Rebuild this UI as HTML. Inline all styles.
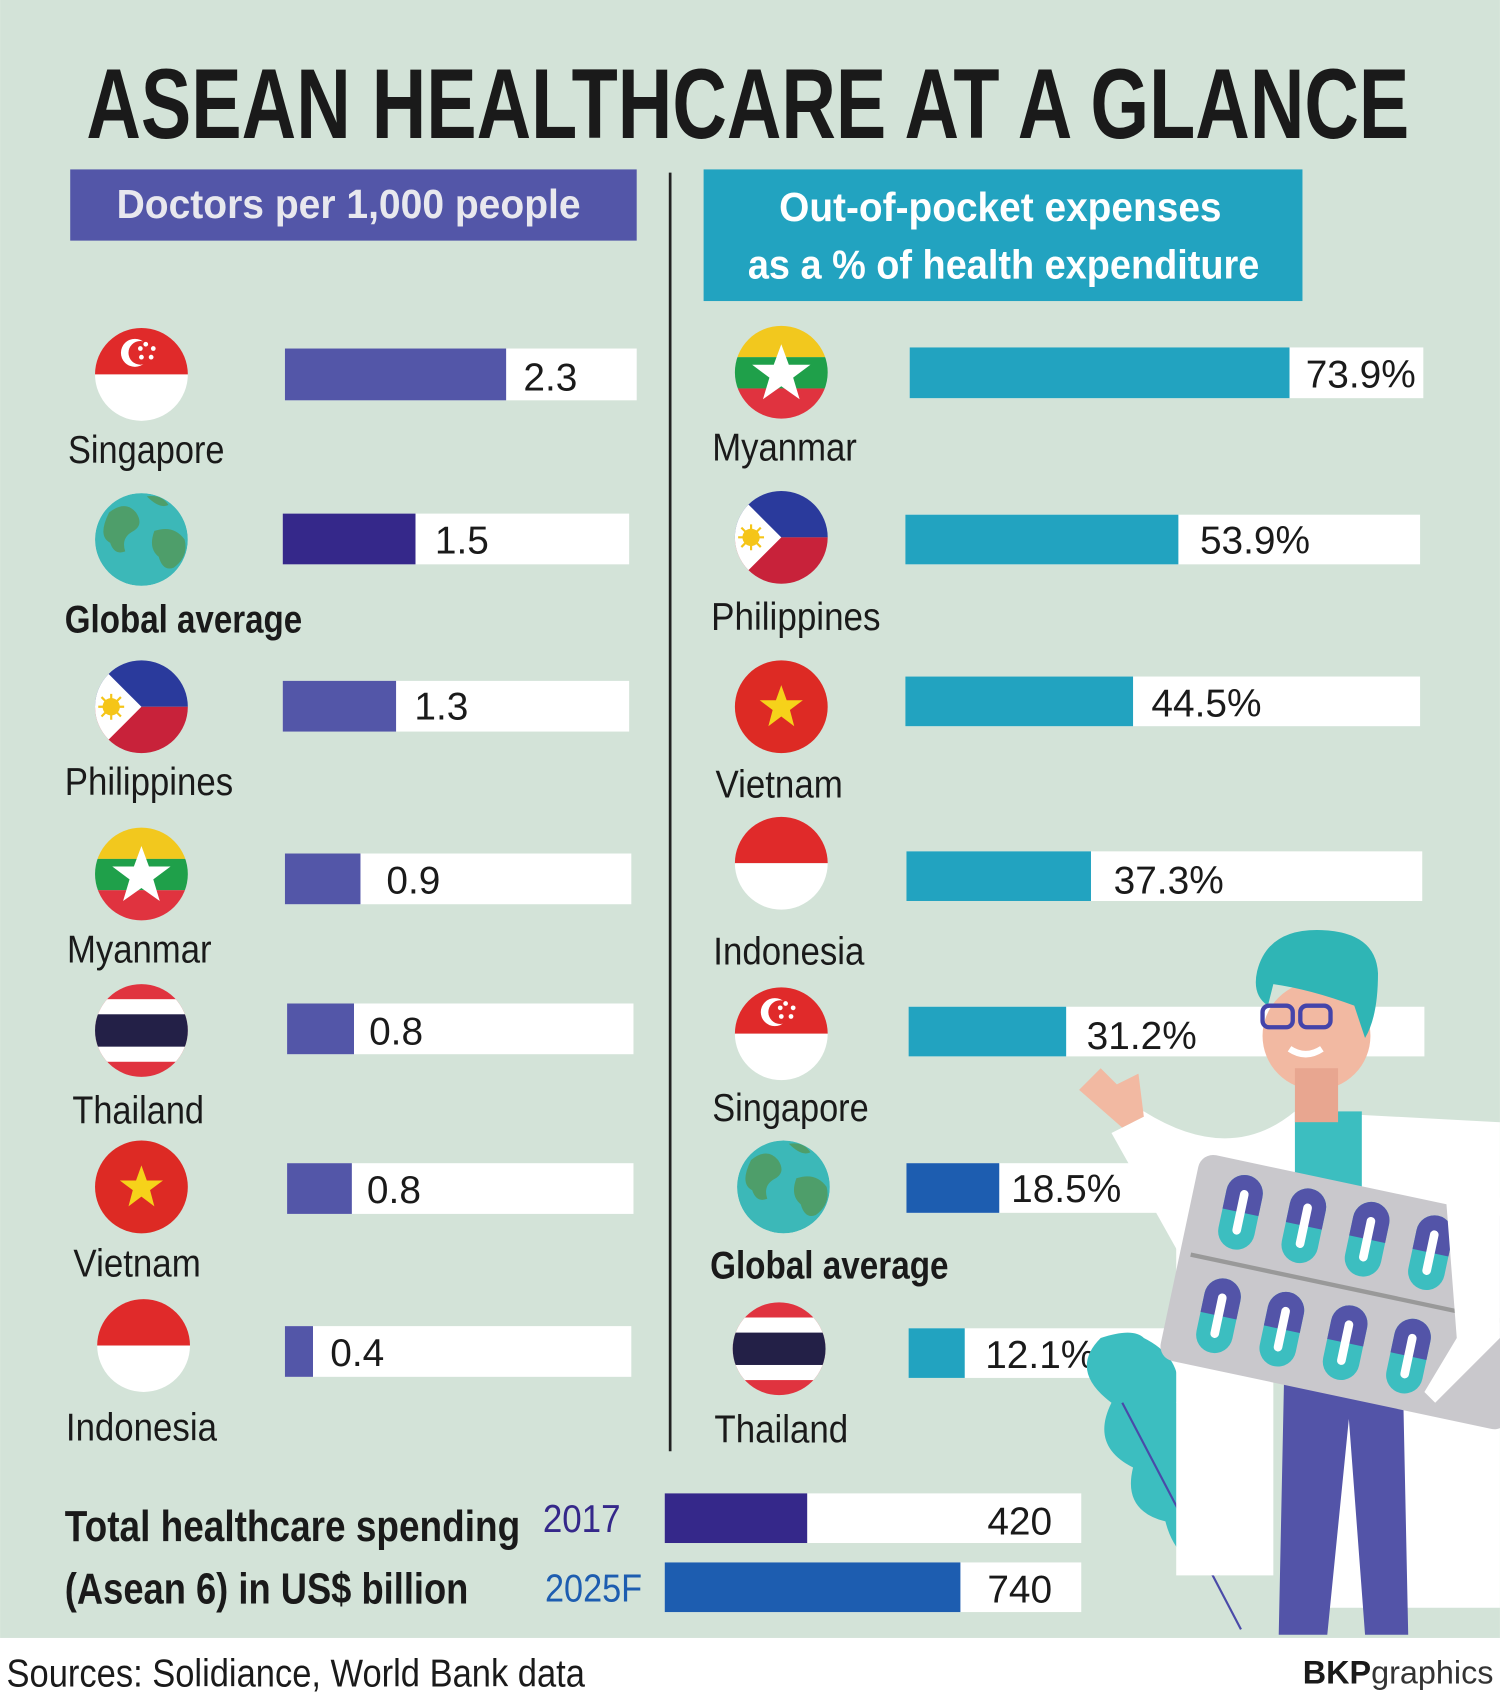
<!DOCTYPE html>
<html><head><meta charset="utf-8"><style>
html,body{margin:0;padding:0;background:#fff}
svg{display:block}
text{font-family:"Liberation Sans",sans-serif}
</style></head><body>
<svg width="1500" height="1693" viewBox="0 0 1390 1569" xmlns="http://www.w3.org/2000/svg">
<defs>
<clipPath id="c"><circle cx="0" cy="0" r="43"/></clipPath>
<g id="sg"><g clip-path="url(#c)"><rect x="-45" y="-45" width="90" height="45" fill="#e02a2a"/><rect x="-45" y="0" width="90" height="45" fill="#fff"/><circle cx="-6" cy="-20" r="13" fill="#fff"/><circle cx="-1" cy="-20" r="11" fill="#e02a2a"/><g fill="#fff"><circle cx="4" cy="-28" r="2.2"/><circle cx="11" cy="-24" r="2.2"/><circle cx="9" cy="-16" r="2.2"/><circle cx="0" cy="-16" r="2.2"/><circle cx="-1" cy="-24" r="2.2"/></g></g></g>
<g id="gl"><g clip-path="url(#c)"><circle r="43" fill="#3cb8b8"/><path d="M-30,-25 q15,-12 25,0 q8,12 -4,18 q-10,6 -6,18 q-10,4 -14,-8 q-12,-6 -1,-28z" fill="#4e9e6a"/><path d="M12,-8 q18,-6 28,8 q4,16 -10,26 q-10,4 -14,-10 q-10,-8 -4,-24z" fill="#4e9e6a"/><path d="M5,-40 q14,-2 20,8 q-8,4 -20,-8z" fill="#4e9e6a"/></g></g>
<g id="ph"><g clip-path="url(#c)"><rect x="-45" y="-45" width="90" height="45" fill="#2a3a9c"/><rect x="-45" y="0" width="90" height="45" fill="#c8223a"/><path d="M-45,-45 L0,0 L-45,45z" fill="#fff"/><circle cx="-28" cy="0" r="8" fill="#f5c518"/><g stroke="#f5c518" stroke-width="2"><line x1="-40" y1="0" x2="-16" y2="0"/><line x1="-28" y1="-12" x2="-28" y2="12"/><line x1="-37" y1="-9" x2="-19" y2="9"/><line x1="-37" y1="9" x2="-19" y2="-9"/></g></g></g>
<g id="mm"><g clip-path="url(#c)"><rect x="-45" y="-45" width="90" height="31" fill="#f2c81e"/><rect x="-45" y="-14" width="90" height="29" fill="#1fa04a"/><rect x="-45" y="15" width="90" height="30" fill="#e0333f"/><polygon points="0,-26 7,-7 27,-7 11,5 17,25 0,13 -17,25 -11,5 -27,-7 -7,-7" fill="#fff"/></g></g>
<g id="th"><g clip-path="url(#c)"><rect x="-45" y="-45" width="90" height="90" fill="#e0333f"/><rect x="-45" y="-29" width="90" height="58" fill="#fff"/><rect x="-45" y="-15" width="90" height="30" fill="#232047"/></g></g>
<g id="vn"><g clip-path="url(#c)"><rect x="-45" y="-45" width="90" height="90" fill="#dd2a24"/><polygon points="0,-20 5,-6 20,-6 8,3 12,18 0,9 -12,18 -8,3 -20,-6 -5,-6" fill="#f6d21a"/></g></g>
<g id="id"><g clip-path="url(#c)"><rect x="-45" y="-45" width="90" height="45" fill="#e02a2a"/><rect x="-45" y="0" width="90" height="45" fill="#fff"/></g></g>
<g id="pill"><rect x="0" y="0" width="34" height="70" rx="17" fill="#3cbec0"/><path d="M0,35 L0,17 A17,17 0 0 1 34,17 L34,35z" fill="#5354a8"/><rect x="13" y="14" width="8" height="42" rx="4" fill="#fff"/></g>
</defs>
<rect width="1390" height="1518" fill="#d3e3d8"/>
<rect y="1518" width="1390" height="51" fill="#fff"/>
<text x="80" y="128" font-size="92" font-weight="bold" fill="#1a1a1a" textLength="1226" lengthAdjust="spacingAndGlyphs">ASEAN HEALTHCARE AT A GLANCE</text>
<rect x="65" y="157" width="525" height="66" fill="#5356a8"/>
<text x="108" y="202" font-size="38" font-weight="bold" fill="#e8e8ee" textLength="430" lengthAdjust="spacingAndGlyphs">Doctors per 1,000 people</text>
<line x1="621" y1="160" x2="621" y2="1345" stroke="#222" stroke-width="2.5"/>
<rect x="652" y="157" width="555" height="122" fill="#22a3c0"/>
<text x="722" y="205" font-size="38" font-weight="bold" fill="#fff" textLength="410" lengthAdjust="spacingAndGlyphs">Out-of-pocket expenses</text>
<text x="693" y="258" font-size="38" font-weight="bold" fill="#fff" textLength="474" lengthAdjust="spacingAndGlyphs">as a % of health expenditure</text>
<g font-size="36" fill="#1a1a1a">
<use href="#sg" x="131" y="347"/><rect x="264" y="323" width="326" height="48" fill="#fff"/><rect x="264" y="323" width="205" height="48" fill="#5356a8"/><text x="485" y="362">2.3</text><text x="63" y="429" textLength="145" lengthAdjust="spacingAndGlyphs">Singapore</text>
<use href="#gl" x="131" y="500"/><rect x="262" y="476" width="321" height="47" fill="#fff"/><rect x="262" y="476" width="123" height="47" fill="#35288a"/><text x="403" y="513">1.5</text><text x="60" y="586" font-weight="bold" textLength="220" lengthAdjust="spacingAndGlyphs">Global average</text>
<use href="#ph" x="131" y="655"/><rect x="262" y="631" width="321" height="47" fill="#fff"/><rect x="262" y="631" width="105" height="47" fill="#5356a8"/><text x="384" y="667">1.3</text><text x="60" y="737" textLength="156" lengthAdjust="spacingAndGlyphs">Philippines</text>
<use href="#mm" x="131" y="810"/><rect x="264" y="791" width="321" height="47" fill="#fff"/><rect x="264" y="791" width="70" height="47" fill="#5356a8"/><text x="358" y="828">0.9</text><text x="62" y="892" textLength="134" lengthAdjust="spacingAndGlyphs">Myanmar</text>
<use href="#th" x="131" y="955"/><rect x="266" y="930" width="321" height="47" fill="#fff"/><rect x="266" y="930" width="62" height="47" fill="#5356a8"/><text x="342" y="968">0.8</text><text x="67" y="1041" textLength="122" lengthAdjust="spacingAndGlyphs">Thailand</text>
<use href="#vn" x="131" y="1100"/><rect x="266" y="1078" width="321" height="47" fill="#fff"/><rect x="266" y="1078" width="60" height="47" fill="#5356a8"/><text x="340" y="1115">0.8</text><text x="68" y="1183" textLength="118" lengthAdjust="spacingAndGlyphs">Vietnam</text>
<use href="#id" x="133" y="1247"/><rect x="264" y="1229" width="321" height="47" fill="#fff"/><rect x="264" y="1229" width="26" height="47" fill="#5356a8"/><text x="306" y="1266">0.4</text><text x="61" y="1335" textLength="140" lengthAdjust="spacingAndGlyphs">Indonesia</text>
<use href="#mm" x="724" y="345"/><rect x="843" y="322" width="476" height="47" fill="#fff"/><rect x="843" y="322" width="352" height="47" fill="#22a3c0"/><text x="1210" y="359">73.9%</text><text x="660" y="427" textLength="134" lengthAdjust="spacingAndGlyphs">Myanmar</text>
<use href="#ph" x="724" y="498"/><rect x="839" y="477" width="477" height="46" fill="#fff"/><rect x="839" y="477" width="253" height="46" fill="#22a3c0"/><text x="1112" y="513">53.9%</text><text x="659" y="584" textLength="157" lengthAdjust="spacingAndGlyphs">Philippines</text>
<use href="#vn" x="724" y="655"/><rect x="839" y="627" width="477" height="46" fill="#fff"/><rect x="839" y="627" width="211" height="46" fill="#22a3c0"/><text x="1067" y="664">44.5%</text><text x="663" y="739" textLength="118" lengthAdjust="spacingAndGlyphs">Vietnam</text>
<use href="#id" x="724" y="800"/><rect x="840" y="789" width="478" height="46" fill="#fff"/><rect x="840" y="789" width="171" height="46" fill="#22a3c0"/><text x="1032" y="828">37.3%</text><text x="661" y="894" textLength="140" lengthAdjust="spacingAndGlyphs">Indonesia</text>
<use href="#sg" x="724" y="958"/><rect x="842" y="933" width="478" height="46" fill="#fff"/><rect x="842" y="933" width="146" height="46" fill="#22a3c0"/><text x="1007" y="972">31.2%</text><text x="660" y="1039" textLength="145" lengthAdjust="spacingAndGlyphs">Singapore</text>
<use href="#gl" x="726" y="1100"/><rect x="840" y="1078" width="478" height="46" fill="#fff"/><rect x="840" y="1078" width="86" height="46" fill="#1d5db0"/><text x="937" y="1114">18.5%</text><text x="658" y="1185" font-weight="bold" textLength="221" lengthAdjust="spacingAndGlyphs">Global average</text>
<use href="#th" x="722" y="1250"/><rect x="842" y="1231" width="478" height="46" fill="#fff"/><rect x="842" y="1231" width="52" height="46" fill="#22a3c0"/><text x="913" y="1268">12.1%</text><text x="662" y="1337" textLength="124" lengthAdjust="spacingAndGlyphs">Thailand</text>
</g>
<text x="60" y="1428" font-size="40" font-weight="bold" fill="#1a1a1a" textLength="422" lengthAdjust="spacingAndGlyphs">Total healthcare spending</text>
<text x="60" y="1486" font-size="40" font-weight="bold" fill="#1a1a1a" textLength="374" lengthAdjust="spacingAndGlyphs">(Asean 6) in US$ billion</text>
<text x="503" y="1420" font-size="36" fill="#35288a" textLength="72" lengthAdjust="spacingAndGlyphs">2017</text>
<text x="505" y="1484" font-size="36" fill="#1d5db0" textLength="90" lengthAdjust="spacingAndGlyphs">2025F</text>
<rect x="616" y="1384" width="386" height="46" fill="#fff"/><rect x="616" y="1384" width="132" height="46" fill="#35288a"/>
<text x="975" y="1422" font-size="36" fill="#1a1a1a" text-anchor="end">420</text>
<rect x="616" y="1448" width="386" height="46" fill="#fff"/><rect x="616" y="1448" width="274" height="46" fill="#1d5db0"/>
<text x="975" y="1485" font-size="36" fill="#1a1a1a" text-anchor="end">740</text>
<text x="6" y="1563" font-size="36" fill="#1a1a1a" textLength="536" lengthAdjust="spacingAndGlyphs">Sources: Solidiance, World Bank data</text>
<text x="1384" y="1560" font-size="30" fill="#1a1a1a" text-anchor="end"><tspan font-weight="bold">BKP</tspan><tspan fill="#333">graphics</tspan></text>
<path d="M1060,1240 q40,20 30,60 q30,10 10,50 q40,10 20,50 q30,20 10,60 q-40,-10 -50,-50 q-40,-10 -30,-50 q-40,-20 -20,-60 q-40,-30 -10,-60 q30,-10 40,0z" fill="#3cbec0"/>
<path d="M1040,1300 L1150,1510" stroke="#4a4aa8" stroke-width="2" fill="none"/>
<path d="M1350,1300 q30,40 0,120 q-20,40 -60,60 q20,-80 60,-180z" fill="#3cbec0"/>
<path d="M1060,1030 q80,50 140,0 l190,10 l0,450 l-170,0 l-10,-220 l-30,0 l0,190 l-90,0 l0,-320 q-40,-50 -40,-110z" fill="#fff"/>
<rect x="1200" y="1030" width="62" height="250" fill="#3cbec0"/>
<path d="M1190,1275 l110,0 l5,240 l-40,0 l-15,-200 l-20,200 l-45,0z" fill="#5354a8"/>
<circle cx="1220" cy="960" r="50" fill="#f2b9a2"/>
<rect x="1200" y="990" width="40" height="50" fill="#e8a690"/>
<path d="M1165,900 q10,-40 60,-38 q50,2 52,40 q0,40 -12,60 l-10,-30 q-40,-15 -75,-20 l-5,20 q-15,-10 -10,-32z" fill="#2fb5b5"/>
<rect x="1170" y="932" width="28" height="20" rx="6" fill="none" stroke="#4444aa" stroke-width="4"/>
<rect x="1205" y="932" width="28" height="20" rx="6" fill="none" stroke="#4444aa" stroke-width="4"/>
<path d="M1195,972 q15,10 30,0" stroke="#fff" stroke-width="6" fill="none"/>
<path d="M1000,1010 l20,-20 l15,15 l20,-10 l5,40 l-20,10z" fill="#f2b9a2"/>
<path d="M1030,1050 l30,-15 l80,120 l-40,20z" fill="#fff"/>
<g transform="rotate(12 1255 1195)">
<rect x="1090" y="1100" width="330" height="195" rx="14" fill="#c9c8cc"/>
<line x1="1100" y1="1195" x2="1410" y2="1195" stroke="#999" stroke-width="4"/>
<use href="#pill" x="1120" y="1112"/><use href="#pill" x="1180" y="1112"/><use href="#pill" x="1240" y="1112"/><use href="#pill" x="1300" y="1112"/>
<use href="#pill" x="1120" y="1210"/><use href="#pill" x="1180" y="1210"/><use href="#pill" x="1240" y="1210"/><use href="#pill" x="1300" y="1210"/>
</g>
<path d="M1340,1110 l50,0 l0,130 l-60,60 l-10,-10 l30,-50z" fill="#fff"/>
</svg>
</body></html>
